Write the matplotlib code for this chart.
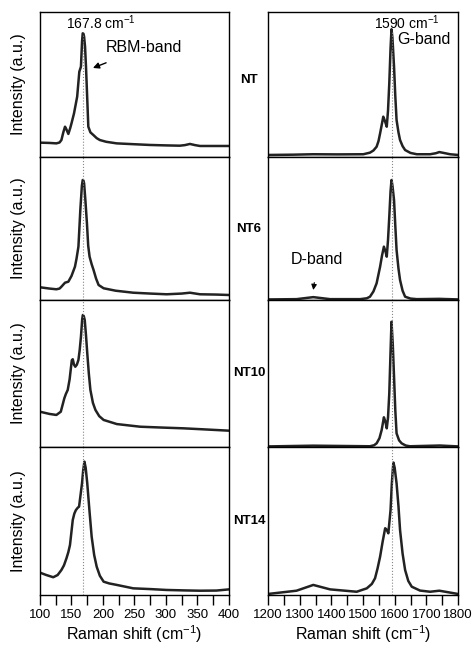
import matplotlib
matplotlib.use("Agg")
from matplotlib import pyplot as plt
from matplotlib.ticker import MultipleLocator

plt.rcParams['font.family'] = ['Liberation Sans', 'DejaVu Sans']
plt.rcParams['mathtext.fontset'] = 'custom'
plt.rcParams['mathtext.rm'] = 'Liberation Sans'
plt.rcParams['mathtext.it'] = 'Liberation Sans:italic'

# sample names
samples = ['NT', 'NT6', 'NT10', 'NT14']

# RBM region (left column), intensity as fraction of panel height
rbm_x = {
    'NT':   [100, 115, 126, 131, 134, 137, 139.7, 142, 145, 148, 150, 154, 159, 162.4, 165, 166.8, 167.8, 169, 170, 171.5, 173, 175, 176.7, 180, 184.6, 190, 195, 205, 221.7, 250, 274.6, 300, 322, 330, 338, 346, 354, 380, 400],
    'NT6':  [100, 115, 126, 131, 134, 139.7, 145, 150, 155.5, 158, 161, 164, 166.5, 167.8, 169, 170, 172, 174.5, 176.5, 178.7, 182, 185, 189, 193, 201, 220, 248, 275, 301, 325, 338, 354, 380, 400],
    'NT10': [100, 115, 126, 133, 138.6, 141, 144, 147, 149, 150.5, 152, 154, 156, 158.5, 161, 163, 165, 167, 168, 169.5, 171, 173, 175, 177.5, 180, 184, 188, 194, 201, 222, 259, 295, 328, 360, 400],
    'NT14': [100, 110, 121, 128, 134, 138, 142, 145, 147.6, 150, 152, 154.5, 157, 160, 162, 164, 166.7, 168.5, 170.5, 172.5, 175, 178.5, 182, 186, 190, 195, 201, 210, 222, 248, 275, 301, 330, 354, 380, 400],
}
rbm_y = {
    'NT':   [0.099, 0.097, 0.094, 0.1, 0.117, 0.17, 0.209, 0.19, 0.159, 0.2, 0.232, 0.301, 0.416, 0.588, 0.623, 0.8, 0.853, 0.85, 0.83, 0.76, 0.623, 0.4, 0.209, 0.17, 0.152, 0.13, 0.117, 0.105, 0.094, 0.088, 0.083, 0.08, 0.078, 0.082, 0.09, 0.082, 0.076, 0.076, 0.076],
    'NT6':  [0.089, 0.08, 0.075, 0.08, 0.093, 0.121, 0.128, 0.168, 0.233, 0.29, 0.373, 0.629, 0.8, 0.839, 0.835, 0.816, 0.7, 0.536, 0.38, 0.303, 0.25, 0.21, 0.15, 0.105, 0.082, 0.065, 0.051, 0.045, 0.04, 0.045, 0.051, 0.04, 0.038, 0.035],
    'NT10': [0.24, 0.225, 0.218, 0.24, 0.331, 0.36, 0.388, 0.46, 0.535, 0.59, 0.597, 0.56, 0.546, 0.56, 0.592, 0.66, 0.75, 0.87, 0.898, 0.89, 0.864, 0.76, 0.639, 0.5, 0.388, 0.3, 0.252, 0.21, 0.184, 0.156, 0.138, 0.132, 0.127, 0.12, 0.111],
    'NT14': [0.151, 0.135, 0.12, 0.135, 0.169, 0.2, 0.248, 0.29, 0.338, 0.43, 0.507, 0.55, 0.574, 0.59, 0.597, 0.664, 0.755, 0.84, 0.901, 0.86, 0.755, 0.57, 0.394, 0.27, 0.191, 0.13, 0.09, 0.078, 0.068, 0.045, 0.04, 0.034, 0.031, 0.029, 0.03, 0.038],
}

# D/G region (right column)
dg_x = {
    'NT':   [1200, 1280, 1343, 1420, 1501, 1522, 1533, 1543, 1549, 1554, 1559, 1564, 1569, 1575, 1579, 1583, 1587, 1590, 1593, 1598, 1602, 1606, 1612, 1617, 1625, 1633, 1650, 1670, 1712, 1730, 1741, 1755, 1775, 1800],
    'NT6':  [1200, 1290, 1343, 1396, 1491, 1512, 1522, 1533, 1543, 1554, 1560, 1566, 1571, 1575, 1579, 1583, 1587, 1590, 1593, 1598, 1602, 1606, 1612, 1617, 1625, 1633, 1650, 1670, 1741, 1800],
    'NT10': [1200, 1343, 1522, 1535, 1543, 1552, 1559, 1566, 1571, 1575, 1579, 1583, 1587, 1590, 1594, 1598, 1602, 1606, 1614, 1622, 1635, 1648, 1743, 1800],
    'NT14': [1200, 1290, 1343, 1396, 1480, 1512, 1528, 1538, 1546, 1554, 1562, 1570, 1575, 1580, 1587, 1591, 1594, 1596, 1600, 1606, 1612, 1617, 1625, 1633, 1643, 1654, 1680, 1712, 1741, 1800],
}
dg_y = {
    'NT':   [0.014, 0.016, 0.019, 0.018, 0.019, 0.03, 0.045, 0.071, 0.11, 0.163, 0.22, 0.278, 0.25, 0.209, 0.32, 0.508, 0.75, 0.881, 0.82, 0.623, 0.42, 0.255, 0.17, 0.117, 0.075, 0.048, 0.028, 0.019, 0.019, 0.026, 0.034, 0.028, 0.019, 0.014],
    'NT6':  [0.004, 0.006, 0.02, 0.006, 0.006, 0.012, 0.023, 0.06, 0.117, 0.233, 0.31, 0.373, 0.34, 0.303, 0.42, 0.583, 0.76, 0.839, 0.8, 0.699, 0.52, 0.35, 0.22, 0.14, 0.065, 0.023, 0.01, 0.006, 0.008, 0.004],
    'NT10': [0.004, 0.009, 0.005, 0.012, 0.025, 0.06, 0.116, 0.202, 0.17, 0.127, 0.2, 0.365, 0.65, 0.852, 0.7, 0.478, 0.25, 0.093, 0.045, 0.025, 0.01, 0.005, 0.01, 0.004],
    'NT14': [0.007, 0.029, 0.068, 0.038, 0.022, 0.045, 0.075, 0.113, 0.18, 0.259, 0.36, 0.451, 0.44, 0.417, 0.574, 0.75, 0.845, 0.895, 0.86, 0.755, 0.6, 0.439, 0.28, 0.169, 0.095, 0.056, 0.03, 0.022, 0.029, 0.007],
}

rbm_peak = 167.8
g_peak = 1590

W, H = 476, 647
fig = plt.figure(figsize=(W / 100, H / 100), dpi=100)

rows = [12, 157, 300, 447, 595]  # panel edges in pixels
left_x0, left_w = 40, 189
right_x0, right_w = 268, 190

axes_l = []
axes_r = []
for i, s in enumerate(samples):
    top, bot = rows[i], rows[i + 1]
    b = 1 - bot / H
    h = (bot - top) / H
    axl = fig.add_axes([left_x0 / W, b, left_w / W, h])
    axr = fig.add_axes([right_x0 / W, b, right_w / W, h])
    axes_l.append(axl)
    axes_r.append(axr)

    axl.plot(rbm_x[s], rbm_y[s], color='#222222', lw=1.8, solid_joinstyle='round')
    axr.plot(dg_x[s], dg_y[s], color='#222222', lw=1.8, solid_joinstyle='round')

    axl.set_xlim(100, 400)
    axr.set_xlim(1200, 1800)
    axl.set_ylim(0, 1)
    axr.set_ylim(0, 1)

    axl.axvline(rbm_peak, ymax=0.85 if i == 0 else 1, color='#888888', lw=0.8, ls=':')
    axr.axvline(g_peak, ymax=0.86 if i == 0 else 1, color='#888888', lw=0.8, ls=':')

    for ax in (axl, axr):
        ax.set_yticks([])
        for sp in ax.spines.values():
            sp.set_linewidth(1.0)
            sp.set_color('black')

    axl.set_ylabel('Intensity (a.u.)', fontsize=11.5, labelpad=10)
    axr.text(-0.1, 0.5 if i else 0.53, s, transform=axr.transAxes, ha='center', va='center',
             fontsize=9.5, fontweight='bold')

    if i < 3:
        axl.set_xticks([])
        axr.set_xticks([])

# bottom axes ticks
for ax, major, minor in ((axes_l[-1], 50, 25), (axes_r[-1], 100, 50)):
    ax.xaxis.set_major_locator(MultipleLocator(major))
    ax.xaxis.set_minor_locator(MultipleLocator(minor))
    ax.tick_params(axis='x', which='both', direction='out', length=7, width=1.0,
                   labelsize=9.5, pad=3)
    ax.set_xlabel('Raman shift (cm$^{-1}$)', fontsize=11.5, labelpad=2)

# annotations
axes_l[0].text(197, 0.924, '167.8 cm$^{-1}$', ha='center', va='center', fontsize=10)
axes_l[0].annotate('RBM-band', xy=(184, 0.614), xytext=(265, 0.752), ha='center', va='center',
                   fontsize=11.5,
                   arrowprops=dict(arrowstyle='-|>', color='black', lw=1.0, shrinkA=9, shrinkB=0,
                                   mutation_scale=9))
axes_r[0].text(1637, 0.924, '1590 cm$^{-1}$', ha='center', va='center', fontsize=10)
axes_r[0].text(1693, 0.807, 'G-band', ha='center', va='center', fontsize=11.5)
axes_r[1].annotate('D-band', xy=(1343, 0.07), xytext=(1356, 0.28), ha='center', va='center',
                   fontsize=11.5,
                   arrowprops=dict(arrowstyle='-|>', color='black', lw=0.8, shrinkA=9, shrinkB=0,
                                   mutation_scale=8))

fig.savefig('out.png', dpi=100)
